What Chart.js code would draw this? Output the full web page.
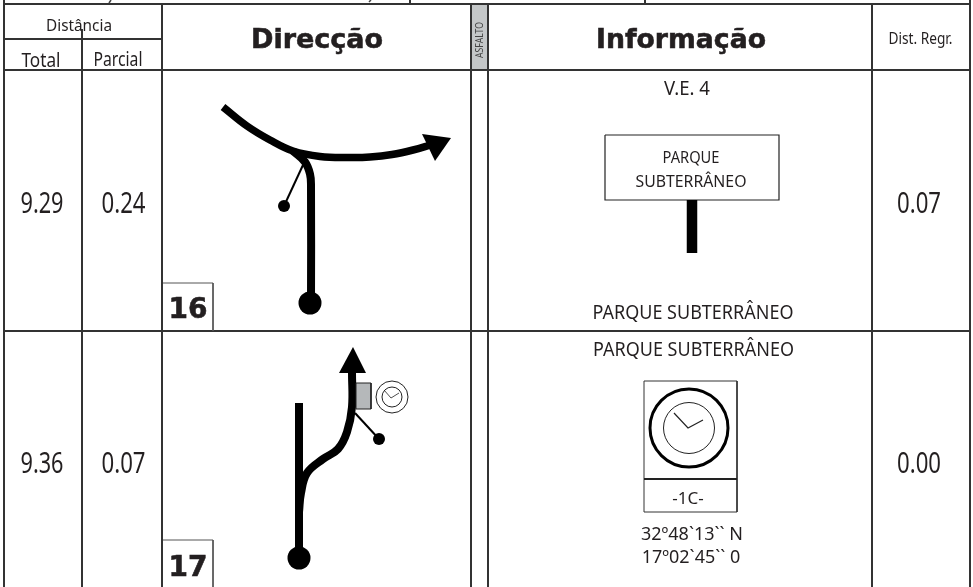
<!DOCTYPE html>
<html>
<head>
<meta charset="utf-8">
<title>Roadbook</title>
<style>
  html, body { margin: 0; padding: 0; background: #fff; }
  canvas { display: block; }
</style>
<script src="https://cdn.jsdelivr.net/npm/chart.js@4/dist/chart.umd.min.js"></script>
</head>
<body>
<canvas id="chart" width="973" height="587"></canvas>
<script>
// valores do roadbook
const totals = ['9.29', '9.36'];
const partials = ['0.24', '0.07'];
const regrDists = ['0.07', '0.00'];
const rowLabels = ['16', '17'];
const headers = ['Distância', 'Total', 'Parcial', 'Direcção', 'ASFALTO', 'Informação', 'Dist. Regr.'];
const infoTexts = ['V.E. 4', 'PARQUE', 'SUBTERRÂNEO', 'PARQUE SUBTERRÂNEO', 'PARQUE SUBTERRÂNEO', '-1C-', '32º48`13`` N', '17º02`45`` 0'];

// tracados, em unidades do eixo
const curve16 = [[223, 107], [247, 126], [270, 140], [293, 151], [320, 156.5], [350, 157.5], [370, 157], [392, 154.5], [413, 150], [432, 144.5]];
const stem16 = [[311, 303], [311, 186], [310, 174], [305, 162], [293, 151]];
const arrow16 = [[422, 134], [451, 138], [435, 161], [422, 134]];
const thin16 = [[303, 165], [284, 206]];
const straight17 = [[299, 403], [299, 558]];
const branch17 = [[299, 512], [301, 493], [307, 473], [323, 459], [338, 449], [347, 432], [352, 407], [352, 373]];
const arrow17 = [[353, 347], [339, 373], [366, 373], [353, 347]];
const thin17 = [[355, 413], [379, 439]];
const asphaltBox = [[472, 5], [488, 5], [488, 70], [472, 70], [472, 5]];
const greyBox17 = [[356, 383], [371, 383], [371, 409], [356, 409], [356, 383]];
const signBox16 = [[605, 135], [779, 135], [779, 200], [605, 200], [605, 135]];
const signPost16 = [[692, 200], [692, 253]];
const signBox17 = [[644, 381], [737, 381], [737, 512], [644, 512], [644, 381]];
const signRule17 = [[644, 479], [737, 479]];
const hands17 = [[674, 413], [688, 428], [703, 420]];
const handsSmall17 = [[384, 390], [391, 398], [399, 393]];
const dots = [[310, 303], [299, 558]];
const smallDots = [[284, 206], [379, 439]];

// grelha da tabela
const gridLines = [
  [[4, 4], [971, 4]], [[4, 39], [162, 39]], [[4, 70], [971, 70]], [[4, 331], [971, 331]],
  [[4, 0], [4, 587]], [[82, 29], [82, 587]], [[162, 4], [162, 587]], [[471, 4], [471, 587]],
  [[488, 4], [488, 587]], [[872, 4], [872, 587]], [[970, 0], [970, 587]],
  [[410, 0], [410, 4]], [[645, 0], [645, 4]]
];
const idBoxes = [
  [[213, 283], [213, 331]], [[163, 283], [213, 283]],
  [[213, 540], [213, 587]], [[163, 540], [213, 540]]
];
// restos da linha de texto cortada no topo
const cutMarks = [[[111, 0], [109, 3]], [[371, 0], [369, 2]]];

const INK = '#000';
const TEXT = '#231f20';
const LINE = '#333';
const TITLE = 'bold 27px "DejaVu Sans"';

function line(pts, width, color, extra) {
  return Object.assign({
    data: pts.map(p => ({ x: p[0], y: p[1] })),
    showLine: true,
    borderColor: color,
    borderWidth: width,
    pointRadius: 0,
    fill: false,
    tension: 0
  }, extra || {});
}

function shape(pts, fillColor, strokeColor, width) {
  return line(pts, width, strokeColor, { fill: 'shape', backgroundColor: fillColor });
}

function circles(pts, radius, fillColor, strokeColor, width) {
  return {
    data: pts.map(p => ({ x: p[0], y: p[1] })),
    showLine: false,
    pointRadius: radius,
    pointBackgroundColor: fillColor,
    pointBorderColor: strokeColor,
    pointBorderWidth: width
  };
}

// ordem de desenho: do fundo para a frente
const layers = [
  shape(asphaltBox, '#c4c7c8', '#c4c7c8', 1),
  ...gridLines.map(g => line(g, 2, LINE)),
  ...idBoxes.map(g => line(g, 1, '#555')),
  ...cutMarks.map(g => line(g, 1.5, '#444')),
  line(curve16, 7.5, INK, { tension: 0.4 }),
  line(stem16, 8, INK, { tension: 0.4 }),
  shape(arrow16, INK, INK, 0),
  line(thin16, 2, INK),
  line(straight17, 8, INK),
  line(branch17, 8, INK, { tension: 0.4 }),
  shape(arrow17, INK, INK, 0),
  line(thin17, 2, INK),
  shape(greyBox17, '#b5b8ba', '#222', 1),
  circles([[392, 397]], 16, '#fff', '#222', 1),
  circles([[392, 397]], 10, '#fff', '#222', 1),
  line(handsSmall17, 0.8, '#222'),
  circles(dots, 11.5, INK, INK, 0),
  circles(smallDots, 6, INK, INK, 0),
  shape(signBox16, '#fff', '#222', 1.2),
  line(signPost16, 10.5, INK),
  shape(signBox17, '#fff', '#333', 1),
  line(signRule17, 2, '#222'),
  circles([[689, 428]], 39, '#fff', INK, 3),
  circles([[689, 428]], 25.5, '#fff', '#222', 1),
  line(hands17, 1.2, '#222')
];

// textos: [texto, x, y, largura maxima, fonte, contorno]
const BODY = '"Noto Sans"';
const textItems = [
  [headers[0], 79, 24, 66, '17px ' + BODY],
  [headers[1], 41, 60, 39, '19px ' + BODY],
  [headers[2], 118, 59, 49, '19px ' + BODY],
  [headers[3], 317, 38, 133, TITLE, 0.6],
  [headers[5], 681, 38, 170, TITLE, 0.6],
  [headers[6], 920.5, 38, 64, '16px ' + BODY],
  [totals[0], 42, 202, 43, '29px ' + BODY],
  [partials[0], 123.5, 202, 44, '29px ' + BODY],
  [regrDists[0], 919, 202, 44, '29px ' + BODY],
  [totals[1], 42, 462, 43, '29px ' + BODY],
  [partials[1], 123.5, 462, 44, '29px ' + BODY],
  [regrDists[1], 919, 462, 44, '29px ' + BODY],
  [rowLabels[0], 188, 308, 40, 'bold 28px "DejaVu Sans"', 0.6],
  [rowLabels[1], 188, 566, 40, 'bold 28px "DejaVu Sans"', 0.6],
  [infoTexts[0], 687, 88, 46, '19px ' + BODY],
  [infoTexts[1], 691, 157, 57, '16px ' + BODY],
  [infoTexts[2], 691, 181, 111, '16px ' + BODY],
  [infoTexts[3], 693, 312, 201, '19px ' + BODY],
  [infoTexts[4], 693.5, 349, 201, '19px ' + BODY],
  [infoTexts[5], 688, 497, 36, '17px ' + BODY],
  [infoTexts[6], 692, 533, 107, '18px ' + BODY],
  [infoTexts[7], 691, 556, 103, '18px ' + BODY]
];

const tablePlugin = {
  id: 'tableText',
  afterDatasetsDraw(chart) {
    const { ctx, scales } = chart;
    ctx.save();
    ctx.fillStyle = TEXT;
    ctx.strokeStyle = TEXT;
    ctx.textAlign = 'center';
    ctx.textBaseline = 'middle';
    for (const [text, x, y, maxW, font, outline] of textItems) {
      const px = scales.x.getPixelForValue(x);
      // 'middle' fica alto demais nestas fontes
      const py = scales.y.getPixelForValue(y) + parseInt(font.replace('bold ', '')) * 0.1;
      ctx.font = font;
      ctx.fillText(text, px, py, maxW);
      if (outline) {
        ctx.lineWidth = outline;
        ctx.strokeText(text, px, py, maxW);
      }
    }
    // coluna estreita, texto na vertical
    ctx.translate(scales.x.getPixelForValue(480), scales.y.getPixelForValue(40));
    ctx.rotate(-Math.PI / 2);
    ctx.font = '10px ' + BODY;
    ctx.fillStyle = '#444';
    ctx.fillText(headers[4], 0, 0, 36);
    ctx.restore();
  }
};

new Chart(document.getElementById('chart').getContext('2d'), {
  type: 'scatter',
  data: { datasets: layers.slice().reverse() },
  plugins: [tablePlugin],
  options: {
    responsive: false,
    animation: false,
    layout: { padding: 0, autoPadding: false },
    plugins: { legend: { display: false }, tooltip: { enabled: false } },
    scales: {
      x: { type: 'linear', min: 0, max: 973, display: false },
      y: { type: 'linear', min: 0, max: 587, reverse: true, display: false }
    }
  }
});
</script>
</body>
</html>
